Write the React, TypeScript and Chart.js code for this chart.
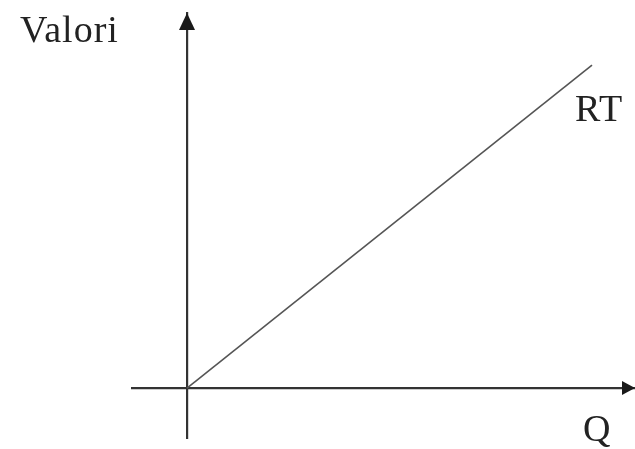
import React, { useEffect, useRef } from "react";
import { Chart, registerables } from "chart.js";

Chart.register(...registerables);

// Data
const quantities = [0, 9.04];
const revenueRT = [0, 8.61];
const yAxisLabel = "Valori";
const xAxisLabel = "Q";
const seriesLabel = "RT";

const X_MIN = -1.228;
const X_MAX = 10;
const Y_MIN = -1.333;
const Y_MAX = 10;

const FONT = "38px 'Liberation Serif', 'Times New Roman', serif";

const diagramPlugin = {
  id: "diagram",
  afterDraw(chart: any) {
    const { ctx, chartArea, scales } = chart;
    const x0 = scales.x.getPixelForValue(0);
    const y0 = scales.y.getPixelForValue(0);
    ctx.save();
    ctx.fillStyle = "#1a1a1a";
    // up arrow on y axis
    ctx.beginPath();
    ctx.moveTo(x0, chartArea.top);
    ctx.lineTo(x0 - 8, chartArea.top + 17);
    ctx.lineTo(x0 + 8, chartArea.top + 17);
    ctx.closePath();
    ctx.fill();
    // right arrow on x axis
    ctx.beginPath();
    ctx.moveTo(chartArea.right, y0);
    ctx.lineTo(chartArea.right - 13, y0 - 7);
    ctx.lineTo(chartArea.right - 13, y0 + 7);
    ctx.closePath();
    ctx.fill();
    // labels
    ctx.font = FONT;
    try { (ctx as any).letterSpacing = "1px"; } catch (e) {}
    ctx.fillStyle = "#222";
    ctx.textBaseline = "alphabetic";
    ctx.textAlign = "left";
    ctx.fillText(yAxisLabel, 20, 42);
    const lastX = scales.x.getPixelForValue(quantities[quantities.length - 1]);
    const lastY = scales.y.getPixelForValue(revenueRT[revenueRT.length - 1]);
    ctx.fillText(seriesLabel, lastX - 17, lastY + 56);
    ctx.fillText(xAxisLabel, chartArea.right - 52, y0 + 53);
    ctx.restore();
  },
};

export default function App() {
  const ref = useRef<HTMLCanvasElement>(null);
  useEffect(() => {
    const canvas = ref.current;
    if (!canvas) return;
    const chart = new Chart(canvas, {
      type: "scatter",
      data: {
        datasets: [
          {
            label: seriesLabel,
            data: quantities.map((q, i) => ({ x: q, y: revenueRT[i] })),
            showLine: true,
            borderColor: "#555",
            borderWidth: 1.6,
            pointRadius: 0,
            fill: false,
          },
        ],
      },
      options: {
        animation: false,
        responsive: false,
        maintainAspectRatio: false,
        layout: { padding: { left: 132, right: 0, top: 13, bottom: 11 } },
        plugins: { legend: { display: false }, tooltip: { enabled: false } },
        scales: {
          x: {
            type: "linear",
            min: X_MIN,
            max: X_MAX,
            position: { y: 0 } as any,
            grid: { display: false },
            border: { display: true, color: "#333", width: 2.2 },
            ticks: { display: false },
          },
          y: {
            type: "linear",
            min: Y_MIN,
            max: Y_MAX,
            position: { x: 0 } as any,
            grid: { display: false },
            border: { display: true, color: "#333", width: 2.2 },
            ticks: { display: false },
          },
        },
      },
      plugins: [diagramPlugin],
    });
    return () => chart.destroy();
  }, []);
  return (
    <div style={{ position: "fixed", left: 0, top: 0, width: 635, height: 449, background: "#fff" }}>
      <canvas ref={ref} width={635} height={449} style={{ width: 635, height: 449 }} />
    </div>
  );
}
